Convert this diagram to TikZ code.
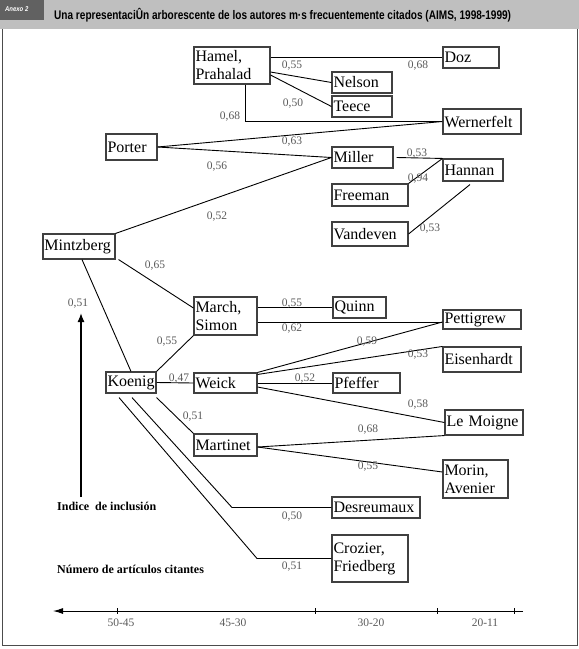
\documentclass[tikz,border=0pt]{standalone}
\usepackage{fontspec}
\setmainfont{Liberation Serif}
\newfontfamily\cabecera{Liberation Sans}
\usetikzlibrary{arrows.meta}

\tikzset{
    autor/.style={draw=black!75, line width=1.1pt, inner xsep=1.5pt, inner ysep=0pt, align=left, font=\fontsize{16}{18}\selectfont},
    peso/.style={text=black!65, inner sep=0pt, font=\fontsize{11.5}{12}\selectfont},
    enlace/.style={line width=0.9pt},
    leyenda/.style={anchor=west, inner sep=0pt, font=\bfseries\fontsize{12}{14}\selectfont}
}

\begin{document}
\begin{tikzpicture}[x=1pt,y=-1pt]
                \useasboundingbox (0,0) rectangle (579,649);
                % cabecera y marco
                \fill[black!25] (0,0) rectangle (579,29);
                \fill[black!62] (0,0) rectangle (44,19.5);
                \node[anchor=west, inner sep=0pt, text=white, font=\cabecera\bfseries\itshape\fontsize{7}{8}\selectfont] (anexo) at (5,9.5) {\scalebox{0.85}[1]{Anexo 2}};
                \node[anchor=west, inner sep=0pt, font=\cabecera\bfseries\fontsize{12.5}{14}\selectfont] (titulo) at (54,15) {\scalebox{0.805}[1]{Una representaciÛn arborescente de los autores m·s frecuentemente citados (AIMS, 1998-1999)}};
                \draw[black!70, line width=1pt] (2.7,29) -- (2.7,645) -- (577,645) -- (577,29);

                % autores
                \node[autor, text width=73pt, minimum height=37pt] (hamel) at (232,65.5) {Hamel,\\Prahalad};
                \node[autor, text width=57pt, minimum height=21pt] (nelson) at (362,82.5) {Nelson};
                \node[autor, text width=57pt, minimum height=21pt] (teece) at (362,106.5) {Teece};
                \node[autor, text width=53pt, minimum height=21pt] (doz) at (471,57.5) {Doz};
                \node[autor, text width=75pt, minimum height=25pt] (wernerfelt) at (482,121.5) {Wernerfelt};
                \node[autor, text width=57pt, minimum height=22pt] (hannan) at (473,170) {Hannan};
                \node[autor, text width=58pt, minimum height=21pt] (miller) at (362.5,157.5) {Miller};
                \node[autor, text width=73pt, minimum height=22pt] (freeman) at (370,195) {Freeman};
                \node[autor, text width=73pt, minimum height=24pt] (vandeven) at (370,234) {Vandeven};
                \node[autor, text width=48pt, minimum height=26pt] (porter) at (131.5,147) {Porter};
                \node[autor, text width=69pt, minimum height=25pt] (mintzberg) at (79,246.5) {Mintzberg};
                \node[autor, text width=60pt, minimum height=38pt] (march) at (225.5,316) {March,\\Simon};
                \node[autor, text width=50pt, minimum height=21pt] (quinn) at (359.5,307.5) {Quinn};
                \node[autor, text width=60pt, minimum height=20pt] (weick) at (225.5,383) {Weick};
                \node[autor, text width=64pt, minimum height=20pt] (pfeffer) at (366.5,383) {Pfeffer};
                \node[autor, text width=75pt, minimum height=19pt] (pettigrew) at (482,319.5) {Pettigrew};
                \node[autor, text width=75pt, minimum height=25pt] (eisenhardt) at (482,359.5) {Eisenhardt};
                \node[autor, text width=75pt, minimum height=25pt] (lemoigne) at (484,422.5) {Le Moigne};
                \node[autor, text width=62pt, minimum height=38pt] (morin) at (475.5,479) {Morin,\\Avenier};
                \node[autor, text width=47pt, minimum height=21pt] (koenig) at (131,382.5) {Koenig};
                \node[autor, text width=60pt, minimum height=22pt] (martinet) at (225.5,445) {Martinet};
                \node[autor, text width=85pt, minimum height=21pt] (desreumaux) at (376,507.5) {Desreumaux};
                \node[autor, text width=73pt, minimum height=47pt] (crozier) at (370,558.5) {Crozier,\\Friedberg};

                % enlaces
                \coordinate (codoA) at (232,507.5);
                \coordinate (codoB) at (257,558.5);
                \draw[enlace] (doz.west) -- (doz.west -| hamel.east);
                \draw[enlace] ([yshift=-6.5pt]hamel.east) -- (nelson.west);
                \draw[enlace] ([yshift=-9.5pt]hamel.east) -- (teece.west);
                \draw[enlace] ([xshift=13pt]hamel.south) |- (wernerfelt.west);
                \draw[enlace] (porter.east) -- (wernerfelt.west);
                \draw[enlace] (porter.east) -- (miller.west);
                \draw[enlace] (mintzberg.north east) -- (miller.west);
                \draw[enlace] ([xshift=3pt]miller.east) -- (hannan.north west);
                \draw[enlace] (freeman.north east) -- (hannan.north west);
                \draw[enlace] (vandeven.east) -- ([xshift=-3pt,yshift=-3pt]hannan.south);
                \draw[enlace] ([xshift=3pt]mintzberg.south east) -- ([yshift=8pt]march.west);
                \draw[enlace] ([xshift=3pt]mintzberg.south) -- (koenig.north);
                \draw[enlace] (koenig.north east) -- (march.south west);
                \draw[enlace] (quinn.west) -- (quinn.west -| march.east);
                \draw[enlace] ([yshift=-6pt]march.east) -- ([yshift=-2.5pt]pettigrew.west);
                \draw[enlace] (koenig.east) -- (weick.west);
                \draw[enlace] (weick.north east) -- ([yshift=-2.5pt]pettigrew.west);
                \draw[enlace] ([yshift=-2pt]weick.north east) -- (eisenhardt.north west);
                \draw[enlace] (weick.east) -- (pfeffer.west);
                \draw[enlace] ([yshift=-4pt]weick.east) -- (lemoigne.west);
                \draw[enlace] ([yshift=-4pt]koenig.south east) -- (martinet.north west);
                \draw[enlace] ([yshift=-2pt]martinet.east) -- (lemoigne.south west);
                \draw[enlace] ([yshift=-2pt]martinet.east) -- ([yshift=7pt]morin.west);
                \draw[enlace] ([xshift=1pt,yshift=-4pt]koenig.south) -- (codoA) -- (desreumaux.west);
                \draw[enlace] ([xshift=-12pt,yshift=-4pt]koenig.south) -- (codoB) -- (crozier.west);

                % indices
                \node[peso] (p-doz) at (418,66) {0,68};
                \node[peso] (p-nelson) at (292,66) {0,55};
                \node[peso] (p-teece) at (293,104) {0,50};
                \node[peso] (p-wern-h) at (230,117) {0,68};
                \node[peso] (p-wern-p) at (292,142) {0,63};
                \node[peso] (p-miller-p) at (217,167) {0,56};
                \node[peso] (p-miller-m) at (217,217) {0,52};
                \node[peso] (p-hannan-m) at (417,154) {0,53};
                \node[peso] (p-hannan-f) at (418,179) {0,94};
                \node[peso] (p-hannan-v) at (430,229) {0,53};
                \node[peso] (p-march-m) at (155,266) {0,65};
                \node[peso] (p-march-k) at (167,342) {0,55};
                \node[peso] (p-indice) at (78,304) {0,51};
                \node[peso] (p-quinn) at (292,304) {0,55};
                \node[peso] (p-pett-m) at (292,329) {0,62};
                \node[peso] (p-weick) at (179,379) {0,47};
                \node[peso] (p-pett-w) at (367,342) {0,59};
                \node[peso] (p-eisen) at (418,355) {0,53};
                \node[peso] (p-pfeffer) at (305,379) {0,52};
                \node[peso] (p-moigne-w) at (418,405) {0,58};
                \node[peso] (p-martinet) at (193,417) {0,51};
                \node[peso] (p-moigne-m) at (368,430) {0,68};
                \node[peso] (p-morin) at (368,467) {0,55};
                \node[peso] (p-desr) at (292,517) {0,50};
                \node[peso] (p-crozier) at (292,567) {0,51};

                % flecha del indice y leyendas
                \coordinate (indice-pie) at (81,497);
                \coordinate (indice-tope) at (81,313);
                \draw[line width=1.3pt, -{Latex[length=9pt,width=7pt]}] (indice-pie) -- (indice-tope);
                \node[leyenda] (l-indice) at (57,506) {Indice\ \ de inclusión};
                \node[leyenda] (l-numero) at (57,569) {Número de artículos citantes};

                % eje de articulos
                \coordinate (eje-der) at (523,611);
                \coordinate (eje-izq) at (53,611);
                \draw[line width=1pt, -{Latex[length=10pt,width=6pt]}] (eje-der) -- (eje-izq);
                \foreach \x in {117,315,437,514}
                    \draw[line width=0.8pt] (\x,608) -- (\x,614);
                \node[peso] (r-1) at (121,623) {50-45};
                \node[peso] (r-2) at (233,623) {45-30};
                \node[peso] (r-3) at (371,623) {30-20};
                \node[peso] (r-4) at (485,623) {20-11};
\end{tikzpicture}
\end{document}
